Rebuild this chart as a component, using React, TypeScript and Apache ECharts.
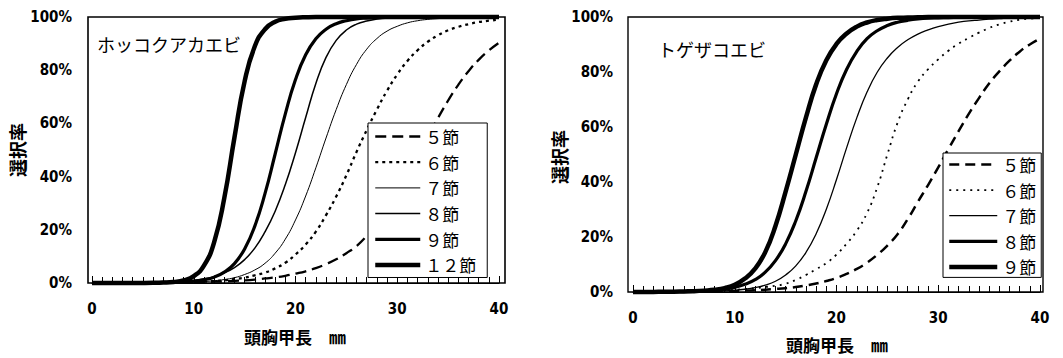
import React, { useEffect, useRef } from "react";
import * as echarts from "echarts";

// carapace length (mm)
const sizes = [
  0, 1, 2, 3, 4, 5, 6, 7, 8, 9, 10, 11, 12, 13, 14, 15, 16, 17, 18, 19, 20,
  21, 22, 23, 24, 25, 26, 27, 28, 29, 30, 31, 32, 33, 34, 35, 36, 37, 38, 39, 40,
];

const xTicks = [0, 10, 20, 30, 40];
const yTicks = [0, 20, 40, 60, 80, 100];

// ホッコクアカエビ selectivity (%)
const hokkoku5 = [0, 0, 0, 0, 0.05, 0.05, 0.08, 0.1, 0.15, 0.2, 0.3, 0.4, 0.5, 0.6, 0.8, 1.0, 1.3, 1.7, 2.1, 2.7, 3.5, 4.4, 5.6, 7.1, 8.9, 11.2, 13.9, 17.7, 22.3, 27.7, 33.9, 40.6, 47.8, 55, 62, 68.6, 74.5, 79.6, 83.9, 87.4, 90.3];
const hokkoku6 = [0, 0, 0, 0.03, 0.04, 0.06, 0.08, 0.12, 0.18, 0.26, 0.36, 0.5, 0.73, 1.0, 1.5, 2.0, 2.9, 3.9, 5.5, 7.6, 10.7, 14.5, 19.3, 25.5, 32.5, 40.5, 49.3, 57.5, 65.2, 72.3, 78.4, 83.5, 87.5, 90.7, 93.1, 95, 96.3, 97.3, 98.1, 98.6, 99];
const hokkoku7 = [0, 0, 0, 0, 0.03, 0.05, 0.06, 0.09, 0.14, 0.22, 0.34, 0.54, 0.84, 1.3, 2.0, 3.2, 4.9, 7.4, 11.2, 16.5, 23.7, 32.7, 43.3, 54.5, 65.2, 74.6, 82.2, 87.9, 91.9, 94.7, 96.5, 97.8, 98.6, 99.1, 99.4, 99.6, 99.8, 99.85, 99.9, 99.9, 100];
const hokkoku8 = [0, 0, 0.03, 0.04, 0.07, 0.1, 0.17, 0.26, 0.41, 0.64, 1.0, 1.6, 2.4, 3.8, 5.8, 8.8, 13.1, 19.2, 27, 37, 49, 62.2, 75, 84.8, 91.2, 95.1, 97.3, 98.5, 99.2, 99.6, 99.8, 99.9, 100, 100, 100, 100, 100, 100, 100, 100, 100];
const hokkoku9 = [0, 0, 0, 0.03, 0.05, 0.08, 0.13, 0.22, 0.35, 0.4, 0.65, 1.2, 2.2, 4.1, 7.3, 12.8, 21.4, 33.6, 48.5, 63.6, 76.5, 85.8, 91.8, 95.4, 97.5, 98.6, 99.3, 99.6, 99.8, 99.9, 100, 100, 100, 100, 100, 100, 100, 100, 100, 100, 100];
const hokkoku12 = [0, 0, 0, 0, 0.01, 0.02, 0.06, 0.16, 0.4, 1.0, 2.6, 6.5, 15.3, 31.9, 54.7, 75.8, 89, 95.4, 98.2, 99.3, 99.7, 99.9, 100, 100, 100, 100, 100, 100, 100, 100, 100, 100, 100, 100, 100, 100, 100, 100, 100, 100, 100];

// トゲザコエビ selectivity (%)
const togezako5 = [0, 0, 0, 0.05, 0.05, 0.1, 0.12, 0.15, 0.22, 0.3, 0.38, 0.5, 0.65, 0.84, 1.1, 1.4, 1.8, 2.4, 3.1, 4.0, 5.1, 6.6, 8.4, 10.7, 13.5, 16.9, 21, 26.5, 32.8, 38.9, 45.3, 52, 58.5, 64.8, 70.5, 75.8, 80.2, 84.1, 87.4, 90, 92.1];
const togezako6 = [0, 0, 0, 0.05, 0.1, 0.15, 0.2, 0.3, 0.45, 0.6, 0.8, 1.1, 1.4, 1.8, 2.3, 3.0, 4.4, 6.2, 8.3, 10.5, 13.6, 17.6, 22.3, 28.7, 38, 50, 61.5, 70, 76.5, 81, 84.6, 87.7, 90.3, 92.4, 94.3, 96, 97.3, 98.3, 99, 99.4, 99.6];
const togezako7 = [0, 0, 0, 0, 0.05, 0.07, 0.1, 0.15, 0.25, 0.4, 0.6, 1.0, 1.6, 2.5, 3.9, 6.2, 9.5, 14.4, 21.2, 30.1, 40.9, 52.5, 63.4, 72.7, 79.9, 85.1, 88.9, 91.7, 93.8, 95.3, 96.5, 97.4, 98.1, 98.6, 98.9, 99.2, 99.4, 99.6, 99.7, 99.8, 99.8];
const togezako8 = [0, 0, 0.05, 0.05, 0.1, 0.14, 0.24, 0.39, 0.64, 1.05, 1.7, 2.8, 4.5, 7.2, 11.4, 17.5, 25.9, 36.6, 48.8, 61, 72.1, 81, 87.5, 92.1, 95, 96.9, 98.1, 98.8, 99.3, 99.6, 99.7, 99.8, 99.9, 100, 100, 100, 100, 100, 100, 100, 100];
const togezako9 = [0, 0, 0, 0.1, 0.1, 0.2, 0.3, 0.5, 0.8, 1.4, 2.6, 4.9, 8.5, 14.5, 24, 36.5, 50, 63.5, 75.5, 84.3, 90.2, 94, 96.5, 98, 98.9, 99.4, 99.7, 99.8, 99.9, 100, 100, 100, 100, 100, 100, 100, 100, 100, 100, 100, 100];

const leftNames = ["５節", "６節", "７節", "８節", "９節", "１２節"];
const rightNames = ["５節", "６節", "７節", "８節", "９節"];

const leftTitle = "ホッコクアカエビ";
const rightTitle = "トゲザコエビ";
const yTitle = "選択率";
const xTitle = "頭胸甲長　㎜";

const NUM_FONT = '"Liberation Sans Narrow", "DejaVu Sans Condensed", "Liberation Sans", sans-serif';
const CJK_FONT = '"Noto Sans CJK JP", "Noto Sans", sans-serif';

type LineDef = { name: string; values: number[]; width: number; type: any };

type PanelSpec = {
  left: number;
  width: number;
  gridLeft: number;
  gridTop: number;
  gridWidth: number;
  gridHeight: number;
  frame: [number, number, number, number];
  frameWidth: number;
  legend: { left: number; top: number; itemWidth: number; padding: number[]; itemGap: number };
  title: string;
  titlePos: [number, number];
  yTitlePos: [number, number];
  xTitlePos: [number, number];
  lines: LineDef[];
};

const leftSpec: PanelSpec = {
  left: 0,
  width: 530,
  gridLeft: 92,
  gridTop: 17,
  gridWidth: 407,
  gridHeight: 266,
  frame: [88, 17, 417, 266],
  frameWidth: 1.6,
  legend: { left: 368, top: 123, itemWidth: 45, padding: [5, 11, 4, 5], itemGap: 8.7 },
  title: leftTitle,
  titlePos: [97, 44],
  yTitlePos: [17, 150],
  xTitlePos: [295, 336],
  lines: [
    { name: leftNames[0], values: hokkoku5, width: 2.3, type: [11, 6] },
    { name: leftNames[1], values: hokkoku6, width: 2.3, type: [3, 4] },
    { name: leftNames[2], values: hokkoku7, width: 1, type: "solid" },
    { name: leftNames[3], values: hokkoku8, width: 1.5, type: "solid" },
    { name: leftNames[4], values: hokkoku9, width: 3.2, type: "solid" },
    { name: leftNames[5], values: hokkoku12, width: 4.5, type: "solid" },
  ],
};

const rightSpec: PanelSpec = {
  left: 530,
  width: 533,
  gridLeft: 103,
  gridTop: 17,
  gridWidth: 407,
  gridHeight: 275,
  frame: [98, 17, 415, 275],
  frameWidth: 1.4,
  legend: { left: 413, top: 153, itemWidth: 48, padding: [3, 5, 2, 4], itemGap: 8.6 },
  title: rightTitle,
  titlePos: [128, 49],
  yTitlePos: [29, 157],
  xTitlePos: [307, 344],
  lines: [
    { name: rightNames[0], values: togezako5, width: 2.5, type: [10, 6] },
    { name: rightNames[1], values: togezako6, width: 1.8, type: [2, 5] },
    { name: rightNames[2], values: togezako7, width: 1.3, type: "solid" },
    { name: rightNames[3], values: togezako8, width: 3.2, type: "solid" },
    { name: rightNames[4], values: togezako9, width: 4.5, type: "solid" },
  ],
};

function buildOption(spec: PanelSpec) {
  const [fx, fy, fw, fh] = spec.frame;
  return {
    animation: false,
    backgroundColor: "#ffffff",
    grid: {
      left: spec.gridLeft,
      top: spec.gridTop,
      width: spec.gridWidth,
      height: spec.gridHeight,
    },
    xAxis: {
      type: "value",
      min: xTicks[0],
      max: xTicks[xTicks.length - 1],
      interval: xTicks[1] - xTicks[0],
      z: 5,
      axisLine: { show: true, onZero: false, lineStyle: { color: "#000", width: 1 } },
      axisTick: { show: true, inside: true, length: 7, lineStyle: { color: "#000", width: 1 } },
      minorTick: { show: true, splitNumber: 10, length: 6, lineStyle: { color: "#000", width: 1 } },
      splitLine: { show: false },
      minorSplitLine: { show: false },
      axisLabel: {
        margin: 18,
        color: "#000",
        fontSize: 15,
        fontWeight: "bold",
        fontFamily: NUM_FONT,
      },
    },
    yAxis: {
      type: "value",
      min: yTicks[0],
      max: yTicks[yTicks.length - 1],
      interval: yTicks[1] - yTicks[0],
      axisLine: { show: false },
      axisTick: { show: false },
      splitLine: { show: false },
      axisLabel: {
        margin: 20,
        color: "#000",
        fontSize: 15,
        fontWeight: "bold",
        fontFamily: NUM_FONT,
        formatter: "{value}%",
      },
    },
    legend: {
      orient: "vertical",
      left: spec.legend.left,
      top: spec.legend.top,
      itemWidth: spec.legend.itemWidth,
      itemHeight: 14,
      itemGap: spec.legend.itemGap,
      padding: spec.legend.padding,
      borderColor: "#000",
      borderWidth: 1,
      borderRadius: 0,
      backgroundColor: "#ffffff",
      selectedMode: false,
      z: 8,
      textStyle: { color: "#000", fontSize: 17, fontFamily: CJK_FONT },
      data: spec.lines.map((l) => ({
        name: l.name,
        lineStyle: { color: "#000", width: l.width, type: l.type },
        itemStyle: { opacity: 0, borderWidth: 0 },
      })),
    },
    series: spec.lines.map((l) => ({
      type: "line",
      name: l.name,
      data: sizes.map((s, i) => [s, l.values[i]]),
      symbol: "none",
      showSymbol: false,
      smooth: 0.5,
      clip: false,
      lineStyle: { color: "#000", width: l.width, type: l.type, join: "round" },
      itemStyle: { color: "#000" },
    })),
    graphic: [
      {
        type: "rect",
        shape: { x: fx, y: fy, width: fw, height: fh },
        style: { fill: "none", stroke: "#000", lineWidth: spec.frameWidth },
        z: 10,
        silent: true,
      },
      {
        type: "text",
        x: spec.titlePos[0],
        y: spec.titlePos[1],
        style: {
          text: spec.title,
          fill: "#000",
          fontSize: 18,
          fontFamily: CJK_FONT,
          align: "left",
          verticalAlign: "middle",
        },
        z: 11,
      },
      {
        type: "text",
        x: spec.yTitlePos[0],
        y: spec.yTitlePos[1],
        rotation: Math.PI / 2,
        style: {
          text: yTitle,
          fill: "#000",
          fontSize: 18,
          fontWeight: "bold",
          fontFamily: CJK_FONT,
          align: "center",
          verticalAlign: "middle",
        },
      },
      {
        type: "text",
        x: spec.xTitlePos[0],
        y: spec.xTitlePos[1],
        style: {
          text: xTitle,
          fill: "#000",
          fontSize: 17,
          fontWeight: "bold",
          fontFamily: CJK_FONT,
          align: "center",
          verticalAlign: "middle",
        },
      },
    ],
  };
}

function Panel({ spec }: { spec: PanelSpec }) {
  const ref = useRef<HTMLDivElement>(null);
  useEffect(() => {
    if (!ref.current) return;
    const chart = echarts.init(ref.current, null, { renderer: "svg" });
    chart.setOption(buildOption(spec) as any);
    return () => {
      chart.dispose();
    };
  }, [spec]);
  return (
    <div
      ref={ref}
      style={{ position: "absolute", left: spec.left, top: 0, width: spec.width, height: 358 }}
    />
  );
}

export default function App() {
  return (
    <div
      style={{
        position: "fixed",
        left: 0,
        top: 0,
        width: 1063,
        height: 358,
        background: "#ffffff",
        overflow: "hidden",
      }}
    >
      <Panel spec={leftSpec} />
      <Panel spec={rightSpec} />
    </div>
  );
}
